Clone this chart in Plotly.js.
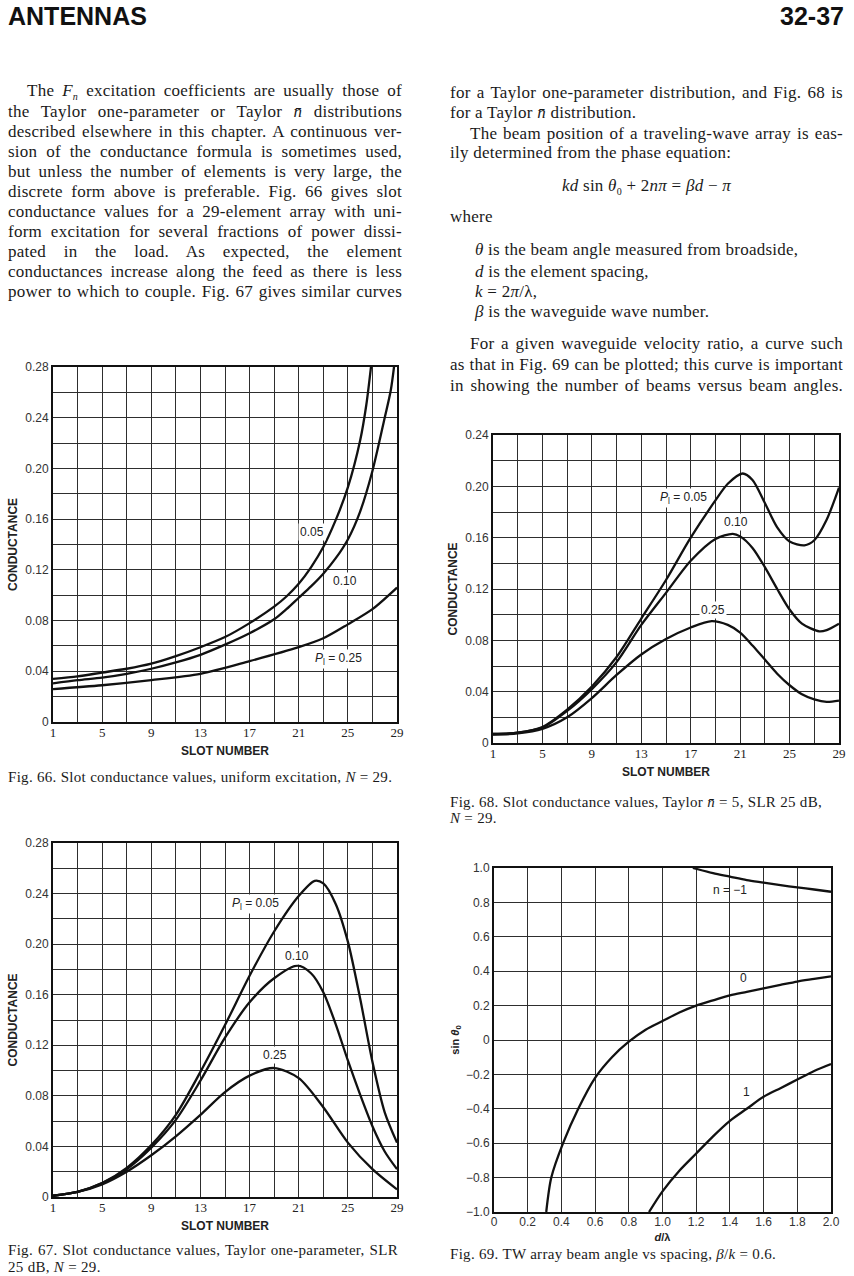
<!DOCTYPE html>
<html>
<head>
<meta charset="utf-8">
<script src="https://cdn.plot.ly/plotly-3.0.1.min.js"></script>
<style>
  html, body { margin:0; padding:0; background:#fff; }
  #page { position:relative; width:854px; height:1276px; overflow:hidden; background:#fff; color:#1a1a1a; }
  .hdr { position:absolute; top:2px; font-family:'Liberation Sans', Arial, sans-serif; font-weight:bold; font-size:25px; line-height:28px; color:#111; }
  .ln { position:absolute; font-family:'Liberation Serif', 'Times New Roman', serif; font-size:17px; letter-spacing:0.25px; line-height:20px; white-space:nowrap; }
  .j { text-align:justify; text-align-last:justify; white-space:normal; }
  .cap { position:absolute; font-family:'Liberation Serif', 'Times New Roman', serif; font-size:15px; letter-spacing:0.3px; line-height:17px; white-space:nowrap; }
  .chart { position:absolute; }
</style>
</head>
<body>
<div id="page">
  <div class="hdr" style="left:8px;">ANTENNAS</div>
  <div class="hdr" style="right:10px;">32-37</div>

  <!-- left column text -->
  <div class="ln j" style="left:8px; width:394px; top:81px; text-indent:19px;">The <i>F<sub style="font-size:10px">n</sub></i> excitation coefficients are usually those of</div>
  <div class="ln j" style="left:8px; width:394px; top:102px;">the Taylor one-parameter or Taylor <i>n̄</i> distributions</div>
  <div class="ln j" style="left:8px; width:394px; top:122px;">described elsewhere in this chapter. A continuous ver-</div>
  <div class="ln j" style="left:8px; width:394px; top:142px;">sion of the conductance formula is sometimes used,</div>
  <div class="ln j" style="left:8px; width:394px; top:162px;">but unless the number of elements is very large, the</div>
  <div class="ln j" style="left:8px; width:394px; top:182px;">discrete form above is preferable. Fig. 66 gives slot</div>
  <div class="ln j" style="left:8px; width:394px; top:202px;">conductance values for a 29-element array with uni-</div>
  <div class="ln j" style="left:8px; width:394px; top:222px;">form excitation for several fractions of power dissi-</div>
  <div class="ln j" style="left:8px; width:394px; top:242px;">pated in the load. As expected, the element</div>
  <div class="ln j" style="left:8px; width:394px; top:262px;">conductances increase along the feed as there is less</div>
  <div class="ln j" style="left:8px; width:394px; top:282px;">power to which to couple. Fig. 67 gives similar curves</div>

  <!-- right column text -->
  <div class="ln j" style="left:450px; width:393px; top:83px;">for a Taylor one-parameter distribution, and Fig. 68 is</div>
  <div class="ln" style="left:450px; top:103px;">for a Taylor <i>n̄</i> distribution.</div>
  <div class="ln j" style="left:450px; width:393px; top:124px; text-indent:20px;">The beam position of a traveling-wave array is eas-</div>
  <div class="ln" style="left:450px; top:143px;">ily determined from the phase equation:</div>
  <div class="ln" style="left:450px; width:393px; top:176px; text-align:center;"><i>kd</i> sin <i>θ</i><sub style="font-size:10px">0</sub> + 2<i>n</i><i>π</i> = <i>β</i><i>d</i> − <i>π</i></div>
  <div class="ln" style="left:450px; top:207px;">where</div>
  <div class="ln" style="left:475px; top:240px;"><i>θ</i> is the beam angle measured from broadside,</div>
  <div class="ln" style="left:475px; top:262px;"><i>d</i> is the element spacing,</div>
  <div class="ln" style="left:475px; top:282px;"><i>k</i> = 2<i>π</i>/λ,</div>
  <div class="ln" style="left:475px; top:302px;"><i>β</i> is the waveguide wave number.</div>
  <div class="ln j" style="left:450px; width:393px; top:334px; text-indent:20px;">For a given waveguide velocity ratio, a curve such</div>
  <div class="ln j" style="left:450px; width:393px; top:355px;">as that in Fig. 69 can be plotted; this curve is important</div>
  <div class="ln j" style="left:450px; width:393px; top:376px;">in showing the number of beams versus beam angles.</div>

  <!-- charts -->
  <div id="fig66" class="chart" style="left:0px; top:340px; width:420px; height:420px;"></div>
  <div id="fig67" class="chart" style="left:0px; top:815px; width:420px; height:420px;"></div>
  <div id="fig68" class="chart" style="left:430px; top:410px; width:424px; height:375px;"></div>
  <div id="fig69" class="chart" style="left:430px; top:840px; width:424px; height:410px;"></div>

  <!-- captions -->
  <div class="cap" style="left:8px; top:769px;">Fig. 66. Slot conductance values, uniform excitation, <i>N</i> = 29.</div>
  <div class="cap j" style="left:8px; width:390px; top:1242px;">Fig. 67. Slot conductance values, Taylor one-parameter, SLR</div>
  <div class="cap" style="left:8px; top:1259px;">25 dB, <i>N</i> = 29.</div>
  <div class="cap" style="left:450px; top:794px;">Fig. 68. Slot conductance values, Taylor <i>n̄</i> = 5, SLR 25 dB,</div>
  <div class="cap" style="left:450px; top:810px;"><i>N</i> = 29.</div>
  <div class="cap" style="left:450px; top:1246px;">Fig. 69. TW array beam angle vs spacing, <i>β</i>/<i>k</i> = 0.6.</div>
</div>

<script>
// ---------- Fig. 66: uniform excitation ----------
const f66_slot_005 = [1,3,5,7,9,11,13,15,17,19,20,21,22,23,24,25,26,26.5,27];
const f66_g_005    = [0.034,0.036,0.039,0.042,0.046,0.052,0.059,0.067,0.078,0.091,0.099,0.109,0.122,0.138,0.159,0.185,0.222,0.250,0.290];
const f66_slot_010 = [1,3,5,7,9,11,13,15,17,19,20,21,22,23,24,25,26,27,28,28.5,29];
const f66_g_010    = [0.0305,0.033,0.035,0.038,0.042,0.047,0.053,0.061,0.070,0.081,0.089,0.098,0.107,0.117,0.129,0.144,0.166,0.198,0.240,0.262,0.300];
const f66_slot_025 = [1,5,9,13,17,21,23,25,27,29];
const f66_g_025    = [0.026,0.029,0.033,0.038,0.048,0.059,0.066,0.077,0.089,0.106];

// ---------- Fig. 67: Taylor one-parameter ----------
const f67_slot_005 = [1,3,5,7,9,11,13,15,17,19,21,22.3,23,24,25,26,27,28,29];
const f67_g_005    = [0.001,0.004,0.011,0.023,0.041,0.065,0.099,0.136,0.175,0.210,0.238,0.250,0.248,0.232,0.202,0.157,0.107,0.067,0.043];
const f67_slot_010 = [1,3,5,7,9,11,13,15,17,19,20.9,22,23,24,25,26,27,28,29];
const f67_g_010    = [0.001,0.004,0.011,0.022,0.039,0.061,0.092,0.126,0.154,0.173,0.183,0.177,0.162,0.137,0.108,0.081,0.056,0.036,0.022];
const f67_slot_025 = [1,3,5,7,9,11,13,15,17,19,21,23,25,27,29];
const f67_g_025    = [0.001,0.004,0.010,0.020,0.033,0.048,0.065,0.083,0.096,0.102,0.094,0.071,0.043,0.022,0.006];

// ---------- Fig. 68: Taylor n-bar ----------
const f68_slot_005 = [1,3,5,7,9,11,13,15,17,19,20,21.2,22,23,24,25,26.2,27,28,29];
const f68_g_005    = [0.007,0.008,0.0125,0.026,0.044,0.067,0.097,0.127,0.160,0.189,0.202,0.210,0.205,0.187,0.168,0.157,0.154,0.158,0.174,0.199];
const f68_slot_010 = [1,3,5,7,9,11,13,15,17,19,20.4,21,22,23,24,25,26,27.4,28,29];
const f68_g_010    = [0.007,0.008,0.012,0.025,0.042,0.063,0.092,0.117,0.142,0.159,0.163,0.161,0.152,0.137,0.120,0.104,0.093,0.087,0.088,0.093];
const f68_slot_025 = [1,3,5,7,9,11,13,15,17,18.7,20,21,22,23,24,25,26,27,28,29];
const f68_g_025    = [0.0065,0.0075,0.011,0.020,0.035,0.053,0.069,0.081,0.090,0.095,0.092,0.086,0.076,0.065,0.054,0.045,0.038,0.034,0.032,0.033];

// ---------- Fig. 69: beam angle vs spacing ----------
const f69_d_n0  = [0.31,0.34,0.41,0.5,0.6,0.7,0.8,0.9,1.0,1.1,1.2,1.3,1.4,1.5,1.6,1.7,1.8,1.9,2.0];
const f69_s_n0  = [-1.0,-0.8,-0.6,-0.4,-0.22,-0.1,-0.01,0.06,0.11,0.16,0.2,0.23,0.26,0.28,0.30,0.32,0.34,0.355,0.37];
const f69_d_n1  = [0.92,1.0,1.1,1.2,1.3,1.4,1.5,1.6,1.7,1.8,1.9,2.0];
const f69_s_n1  = [-1.0,-0.88,-0.76,-0.66,-0.56,-0.47,-0.4,-0.33,-0.28,-0.23,-0.18,-0.14];
const f69_d_nm1 = [1.18,1.3,1.4,1.5,1.6,1.7,1.8,1.9,2.0];
const f69_s_nm1 = [1.0,0.97,0.95,0.93,0.915,0.9,0.887,0.875,0.862];

// ---------- tick labels ----------
const slot_ticks = [1,5,9,13,17,21,25,29];
const slot_text  = ['1','5','9','13','17','21','25','29'];
const g28_ticks  = [0,0.04,0.08,0.12,0.16,0.20,0.24,0.28];
const g28_text   = ['0','0.04','0.08','0.12','0.16','0.20','0.24','0.28'];
const g24_ticks  = [0,0.04,0.08,0.12,0.16,0.20,0.24];
const g24_text   = ['0','0.04','0.08','0.12','0.16','0.20','0.24'];
const f69_xticks = [0,0.2,0.4,0.6,0.8,1.0,1.2,1.4,1.6,1.8,2.0];
const f69_xtext  = ['0','0.2','0.4','0.6','0.8','1.0','1.2','1.4','1.6','1.8','2.0'];
const f69_yticks = [1.0,0.8,0.6,0.4,0.2,0,-0.2,-0.4,-0.6,-0.8,-1.0];
const f69_ytext  = ['1.0','0.8','0.6','0.4','0.2','0','−0.2','−0.4','−0.6','−0.8','−1.0'];

// ---------- styling helpers ----------
const SANS = 'Liberation Sans, Arial, sans-serif';
const SERIF = 'Liberation Serif, Times New Roman, serif';
const GRID = '#2e2e2e';
const config = {staticPlot:true, displayModeBar:false};

function curve(x, y) {
  return {x:x, y:y, type:'scatter', mode:'lines', line:{color:'#111', width:2.3, shape:'spline', smoothing:0.8}, hoverinfo:'skip', showlegend:false};
}
function label(x, y, text, bg) {
  return {x:x, y:y, xref:'x', yref:'y', text:text, showarrow:false, font:{family:SANS, size:12, color:'#222'},
          bgcolor: bg ? '#ffffff' : 'rgba(0,0,0,0)', borderpad:1};
}
function slotAxes(ymax, yticks, ytext) {
  return {
    xaxis: {range:[1,29], tickmode:'array', tickvals:slot_ticks, ticktext:slot_text, showgrid:true, gridcolor:GRID, gridwidth:1,
            minor:{tickmode:'linear', tick0:1, dtick:2, showgrid:true, gridcolor:GRID, gridwidth:1, ticks:''},
            showline:true, mirror:true, linecolor:'#111', linewidth:2, zeroline:false, ticks:'',
            ticklabelstandoff:-3,
            tickfont:{family:SERIF, size:13, color:'#222'},
            title:{text:'SLOT NUMBER', font:{family:SANS, size:12, color:'#222', weight:'bold'}, standoff:8}},
    yaxis: {range:[0,ymax], tickmode:'array', tickvals:yticks, ticktext:ytext, showgrid:true, gridcolor:GRID, gridwidth:1,
            minor:{tickmode:'linear', tick0:0, dtick:0.02, showgrid:true, gridcolor:GRID, gridwidth:1, ticks:''},
            showline:true, mirror:true, linecolor:'#111', linewidth:2, zeroline:false, ticks:'',
            tickfont:{family:SANS, size:12, color:'#333'},
            title:{text:'CONDUCTANCE', font:{family:SANS, size:12, color:'#222', weight:'bold'}, standoff:5}}
  };
}

// Fig 66
(function(){
  const ax = slotAxes(0.28, g28_ticks, g28_text);
  const layout = Object.assign({
    width:420, height:420, margin:{l:53, r:23, t:27, b:38},
    paper_bgcolor:'rgba(0,0,0,0)', plot_bgcolor:'#fff', showlegend:false,
    annotations:[
      label(22.05, 0.150, '0.05', true),
      label(24.75, 0.111, '0.10', true),
      label(24.2, 0.050, '<i>P</i><sub>l</sub> = 0.25', true)
    ]
  }, ax);
  Plotly.newPlot('fig66', [curve(f66_slot_005, f66_g_005), curve(f66_slot_010, f66_g_010), curve(f66_slot_025, f66_g_025)], layout, config);
})();

// Fig 67
(function(){
  const ax = slotAxes(0.28, g28_ticks, g28_text);
  const layout = Object.assign({
    width:420, height:420, margin:{l:53, r:23, t:28, b:38},
    paper_bgcolor:'rgba(0,0,0,0)', plot_bgcolor:'#fff', showlegend:false,
    annotations:[
      label(17.45, 0.232, '<i>P</i><sub>l</sub> = 0.05', true),
      label(20.85, 0.191, '0.10', true),
      label(19.1, 0.112, '0.25', true)
    ]
  }, ax);
  Plotly.newPlot('fig67', [curve(f67_slot_005, f67_g_005), curve(f67_slot_010, f67_g_010), curve(f67_slot_025, f67_g_025)], layout, config);
})();

// Fig 68
(function(){
  const ax = slotAxes(0.24, g24_ticks, g24_text);
  const layout = Object.assign({
    width:424, height:375, margin:{l:63, r:15, t:25, b:42},
    paper_bgcolor:'rgba(0,0,0,0)', plot_bgcolor:'#fff', showlegend:false,
    annotations:[
      label(16.4, 0.191, '<i>P</i><sub>l</sub> = 0.05', true),
      label(20.7, 0.172, '0.10', true),
      label(18.8, 0.1035, '0.25', true)
    ]
  }, ax);
  Plotly.newPlot('fig68', [curve(f68_slot_005, f68_g_005), curve(f68_slot_010, f68_g_010), curve(f68_slot_025, f68_g_025)], layout, config);
})();

// Fig 69
(function(){
  const layout = {
    width:424, height:410, margin:{l:64, r:23, t:28, b:38},
    paper_bgcolor:'rgba(0,0,0,0)', plot_bgcolor:'#fff', showlegend:false,
    xaxis: {range:[0,2], tickmode:'array', tickvals:f69_xticks, ticktext:f69_xtext, showgrid:true, gridcolor:GRID, gridwidth:1,
            showline:true, mirror:true, linecolor:'#111', linewidth:2, zeroline:false, ticks:'',
            ticklabelstandoff:-2,
            tickfont:{family:SANS, size:12, color:'#333'},
            title:{text:'<i>d</i>/λ', font:{family:SANS, size:11, color:'#222', weight:'bold'}, standoff:5}},
    yaxis: {range:[-1,1], tickmode:'array', tickvals:f69_yticks, ticktext:f69_ytext, showgrid:true, gridcolor:GRID, gridwidth:1,
            showline:true, mirror:true, linecolor:'#111', linewidth:2, zeroline:false, ticks:'',
            tickfont:{family:SANS, size:12, color:'#333'},
            title:{text:'sin <i>θ</i><sub>0</sub>', font:{family:SANS, size:11, color:'#222', weight:'bold'}, standoff:4}},
    annotations:[
      label(1.40, 0.875, 'n = −1', false),
      label(1.48, 0.36, '0', false),
      label(1.50, -0.30, '1', false)
    ]
  };
  Plotly.newPlot('fig69', [curve(f69_d_nm1, f69_s_nm1), curve(f69_d_n0, f69_s_n0), curve(f69_d_n1, f69_s_n1)], layout, config);
})();
</script>
</body>
</html>
